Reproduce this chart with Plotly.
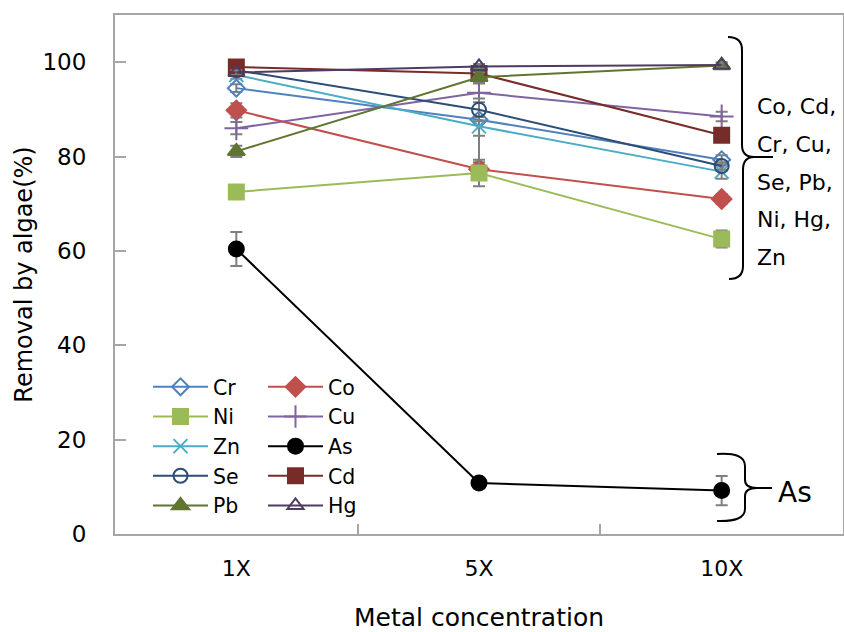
import plotly.graph_objects as go

categories = ["1X", "5X", "10X"]
series_names = ["Cr", "Co", "Ni", "Cu", "Zn", "As", "Se", "Cd", "Pb", "Hg"]

Cr = [94.5, 87.8, 79.3]
Co = [89.8, 77.3, 71.0]
Ni = [72.5, 76.5, 62.5]
Cu = [86.0, 93.5, 88.5]
Zn = [97.3, 86.4, 76.8]
As = [60.4, 10.8, 9.2]
Se = [98.3, 89.9, 78.0]
Cd = [99.0, 97.6, 84.5]
Pb = [81.1, 96.8, 99.3]
Hg = [97.8, 99.1, 99.4]

Cr_err = [0.8, 10.5, 1.0]
Co_err = [1.5, 1.5, 1.0]
Ni_err = [0.8, 2.8, 1.8]
Cu_err = [1.3, 2.0, 1.0]
Zn_err = [0.8, 2.0, 1.5]
As_err = [3.6, 0.5, 3.1]
Se_err = [0.5, 2.4, 0.8]
Cd_err = [0.5, 1.0, 0.6]
Pb_err = [1.2, 1.0, 0.5]
Hg_err = [0.5, 0.5, 0.6]

y_ticks = [0, 20, 40, 60, 80, 100]
group_labels = ["Co, Cd,", "Cr, Cu,", "Se, Pb,", "Ni, Hg,", "Zn"]
as_label = "As"

values = {"Cr": Cr, "Co": Co, "Ni": Ni, "Cu": Cu, "Zn": Zn, "As": As,
          "Se": Se, "Cd": Cd, "Pb": Pb, "Hg": Hg}
errors = {"Cr": Cr_err, "Co": Co_err, "Ni": Ni_err, "Cu": Cu_err, "Zn": Zn_err,
          "As": As_err, "Se": Se_err, "Cd": Cd_err, "Pb": Pb_err, "Hg": Hg_err}

styles = {
    "Cr": dict(color="#4F81BD", symbol="diamond-open", size=13),
    "Co": dict(color="#C0504D", symbol="diamond", size=15),
    "Ni": dict(color="#9BBB59", symbol="square", size=15),
    "Cu": dict(color="#8064A2", symbol="cross-thin", size=17),
    "Zn": dict(color="#4BACC6", symbol="x-thin", size=14),
    "As": dict(color="#000000", symbol="circle", size=15),
    "Se": dict(color="#2C4D75", symbol="circle-open", size=14),
    "Cd": dict(color="#772C2A", symbol="square", size=15),
    "Pb": dict(color="#5F7530", symbol="triangle-up", size=15),
    "Hg": dict(color="#4D3B62", symbol="triangle-up-open", size=14),
}
legend_of = {"Cr": "legend", "Ni": "legend", "Zn": "legend", "Se": "legend", "Pb": "legend",
             "Co": "legend2", "Cu": "legend2", "As": "legend2", "Cd": "legend2", "Hg": "legend2"}

FONT = "DejaVu Sans"
W, H = 844, 632
L, R, T, B = 115, 1, 15, 98
PW, PH = W - L - R, H - T - B


def px(x):
    return (x - L) / PW


def py(y):
    return (H - B - y) / PH


fig = go.Figure()
for name in series_names:
    st = styles[name]
    fig.add_trace(go.Scatter(
        x=categories, y=values[name], name=name, mode="lines+markers",
        line=dict(color=st["color"], width=2),
        marker=dict(symbol=st["symbol"], size=st["size"], color=st["color"],
                    line=dict(color=st["color"], width=2)),
        error_y=dict(type="data", array=errors[name], visible=True,
                     color="#7f7f7f", thickness=2, width=6),
        legend=legend_of[name],
    ))

big_brace = (f"M {px(728)},{py(37)} Q {px(742)},{py(37)} {px(742)},{py(50)} "
             f"L {px(742)},{py(145)} Q {px(742)},{py(157)} {px(754)},{py(157)} L {px(773)},{py(157)} "
             f"M {px(754)},{py(157)} Q {px(743)},{py(157)} {px(743)},{py(170)} "
             f"L {px(743)},{py(266)} Q {px(743)},{py(279)} {px(729)},{py(279)}")
small_brace = (f"M {px(717)},{py(454)} Q {px(745)},{py(452)} {px(745)},{py(466)} "
               f"L {px(745)},{py(480)} Q {px(745)},{py(488)} {px(757)},{py(488)} L {px(772)},{py(488)} "
               f"M {px(757)},{py(488)} Q {px(745)},{py(488)} {px(745)},{py(496)} "
               f"L {px(745)},{py(509)} Q {px(745)},{py(522)} {px(717)},{py(521)}")

shapes = [
    dict(type="path", xref="paper", yref="paper", path=big_brace,
         line=dict(color="black", width=2)),
    dict(type="path", xref="paper", yref="paper", path=small_brace,
         line=dict(color="black", width=2)),
]

annotations = []
for i, t in enumerate(group_labels):
    annotations.append(dict(text=t, xref="paper", yref="paper", x=px(755), y=py(107 + 37.6 * i),
                            xanchor="left", yanchor="middle", showarrow=False,
                            font=dict(family=FONT, size=22, color="black")))
annotations.append(dict(text=as_label, xref="paper", yref="paper", x=px(776), y=py(492),
                        xanchor="left", yanchor="middle", showarrow=False,
                        font=dict(family=FONT, size=28, color="black")))

axis_color = "#a6a6a6"
fig.update_layout(
    width=W, height=H,
    margin=dict(l=L, r=R, t=T, b=B, autoexpand=False),
    paper_bgcolor="white", plot_bgcolor="white",
    font=dict(family=FONT, color="black"),
    shapes=shapes, annotations=annotations,
    xaxis=dict(type="category", range=[-0.5, 2.5], tickson="boundaries",
               ticks="inside", ticklen=10, tickwidth=2, tickcolor=axis_color,
               showline=True, linecolor=axis_color, linewidth=2, mirror=True,
               showgrid=False, zeroline=False,
               tickfont=dict(family=FONT, size=22, color="black"),
               ticklabelstandoff=14,
               title=dict(text="Metal concentration", standoff=33,
                          font=dict(family=FONT, size=25, color="black"))),
    yaxis=dict(range=[0, 110], tickvals=y_ticks,
               ticks="inside", ticklen=11, tickwidth=2, tickcolor=axis_color,
               showline=True, linecolor=axis_color, linewidth=2, mirror=True,
               showgrid=False, zeroline=False,
               tickfont=dict(family=FONT, size=23, color="black"),
               ticklabelstandoff=22,
               title=dict(text="Removal by algae(%)", standoff=3,
                          font=dict(family=FONT, size=24, color="black"))),
    legend=dict(x=px(148), y=py(367), xanchor="left", yanchor="top",
                bgcolor="rgba(0,0,0,0)", itemwidth=55,
                font=dict(family=FONT, size=20.5, color="black"), tracegroupgap=0),
    legend2=dict(x=px(263), y=py(367), xanchor="left", yanchor="top",
                 bgcolor="rgba(0,0,0,0)", itemwidth=55,
                 font=dict(family=FONT, size=20.5, color="black"), tracegroupgap=0),
)

fig.write_html("out.html", config={"displayModeBar": False},
               post_script="document.body.style.margin='0';")
